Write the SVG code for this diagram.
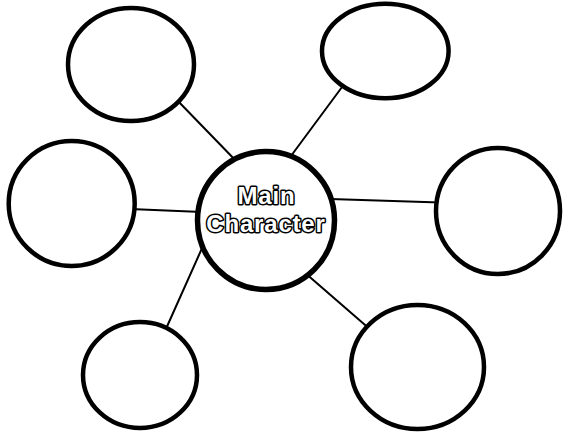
<svg xmlns="http://www.w3.org/2000/svg" width="563" height="435" viewBox="0 0 563 435">
<style>
.bg{fill:#ffffff}
.conn line{stroke:#000;stroke-width:2;stroke-linecap:round}
.bubble{fill:#fff;stroke:#000;stroke-width:4.5}
.main{fill:#fff;stroke:#000;stroke-width:5.5}
.label{font-family:"Liberation Sans",Arial,sans-serif;font-weight:bold;font-size:24px;letter-spacing:0.8px;fill:#fff;stroke:#000;stroke-width:3;stroke-linejoin:round;paint-order:stroke;text-anchor:middle}
</style>
<rect class="bg" x="0" y="0" width="563" height="435"/>
<g id="connectors" class="conn">
<line x1="175" y1="98" x2="240" y2="165"/>
<line x1="345" y1="83" x2="288" y2="160"/>
<line x1="130" y1="209" x2="202" y2="212"/>
<line x1="330" y1="199" x2="440" y2="202.5"/>
<line x1="203" y1="246" x2="165" y2="331"/>
<line x1="304" y1="272" x2="372" y2="331"/>
</g>
<g id="node-top-left"><ellipse class="bubble" cx="131" cy="64.5" rx="63" ry="56.5"/></g>
<g id="node-top-right"><ellipse class="bubble" cx="385.3" cy="51" rx="63.3" ry="47.2"/></g>
<g id="node-left"><ellipse class="bubble" cx="71.7" cy="203.5" rx="63" ry="62.5"/></g>
<g id="node-right"><ellipse class="bubble" cx="498" cy="211" rx="62" ry="63"/></g>
<g id="node-bottom-left"><ellipse class="bubble" cx="140" cy="375" rx="57" ry="53"/></g>
<g id="node-bottom-right"><ellipse class="bubble" cx="417.5" cy="367" rx="66.5" ry="62"/></g>
<g id="node-main">
<ellipse class="main" cx="266" cy="220.5" rx="68.5" ry="69"/>
<text class="label" x="266.5" y="203.5">Main</text>
<text class="label" x="266" y="231.5">Character</text>
</g>
</svg>
